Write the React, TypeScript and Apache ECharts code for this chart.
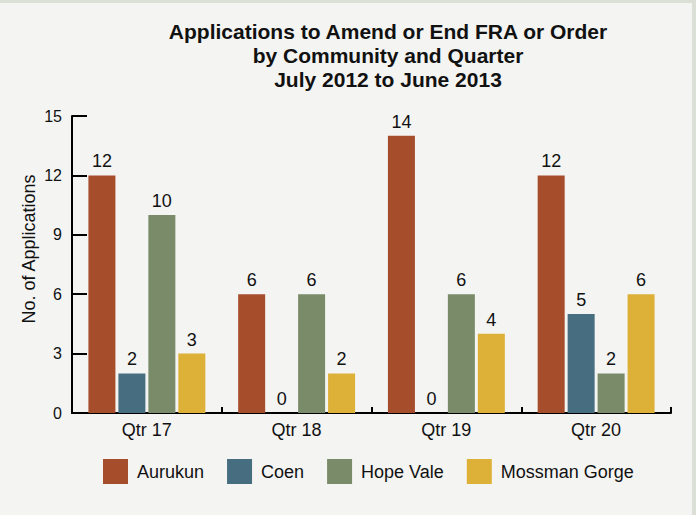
import React, { useEffect, useRef } from "react";
import * as echarts from "echarts";

const categories = ["Qtr 17", "Qtr 18", "Qtr 19", "Qtr 20"];
const seriesNames = ["Aurukun", "Coen", "Hope Vale", "Mossman Gorge"];
const aurukun = [12, 6, 14, 12];
const coen = [2, 0, 0, 5];
const hopeVale = [10, 6, 6, 2];
const mossmanGorge = [3, 2, 4, 6];
const colors = ["#a64d2c", "#466e80", "#798b69", "#ddb038"];
const titleText = "Applications to Amend or End FRA or Order\nby Community and Quarter\nJuly 2012 to June 2013";
const yAxisName = "No. of Applications";

export default function App() {
  const ref = useRef<HTMLDivElement>(null);
  useEffect(() => {
    if (!ref.current) return;
    const chart = echarts.init(ref.current, null, { renderer: "svg" });
    const font = "Arial, 'Liberation Sans', Helvetica, sans-serif";
    const textColor = "#111111";
    const values = [aurukun, coen, hopeVale, mossmanGorge];
    chart.setOption({
      animation: false,
      backgroundColor: "#dcdfd6",
      textStyle: { fontFamily: font, color: textColor },
      graphic: [
        {
          type: "rect",
          z: -10,
          silent: true,
          shape: { x: 0, y: 3, width: 692, height: 512 },
          style: { fill: "#f4f4f2" },
        },
        {
          type: "text",
          x: 29,
          y: 249,
          rotation: Math.PI / 2,
          style: {
            text: yAxisName,
            fontFamily: font,
            fontSize: 18,
            fill: textColor,
            textAlign: "center",
            textVerticalAlign: "middle",
          },
        },
      ],
      title: {
        text: titleText,
        left: 383,
        top: 14,
        textAlign: "center",
        textStyle: {
          fontFamily: font,
          fontSize: 21,
          fontWeight: "bold",
          color: textColor,
          lineHeight: 24,
        },
      },
      legend: {
        data: seriesNames,
        left: 98,
        top: 454,
        itemWidth: 25,
        itemHeight: 25,
        itemGap: 23,
        icon: "rect",
        textStyle: { fontFamily: font, fontSize: 18, color: textColor, padding: [0, 0, 0, 4] },
      },
      grid: { left: 72, right: 25, top: 116, bottom: 102, containLabel: false },
      xAxis: {
        type: "category",
        data: categories,
        axisLine: { lineStyle: { color: "#000", width: 2 } },
        axisTick: { show: true, inside: true, length: 6, lineStyle: { color: "#000", width: 2 } },
        axisLabel: { fontFamily: font, fontSize: 18, color: textColor, margin: 8 },
      },
      yAxis: {
        type: "value",
        min: 0,
        max: 15,
        interval: 3,
        splitLine: { show: false },
        axisLine: { show: true, lineStyle: { color: "#000", width: 2 } },
        axisTick: { show: true, inside: true, length: 15, lineStyle: { color: "#000", width: 2 } },
        axisLabel: { fontFamily: font, fontSize: 16, color: textColor, margin: 10 },
      },
      series: seriesNames.map((name, i) => ({
        name,
        type: "bar",
        data: values[i],
        barWidth: 27,
        barGap: "11%",
        itemStyle: { color: colors[i] },
        label: {
          show: true,
          position: "top",
          distance: 5,
          fontFamily: font,
          fontSize: 18,
          color: textColor,
        },
      })),
    });
    return () => chart.dispose();
  }, []);
  return (
    <div
      ref={ref}
      style={{ position: "absolute", left: 0, top: 0, width: 696, height: 515 }}
    />
  );
}
